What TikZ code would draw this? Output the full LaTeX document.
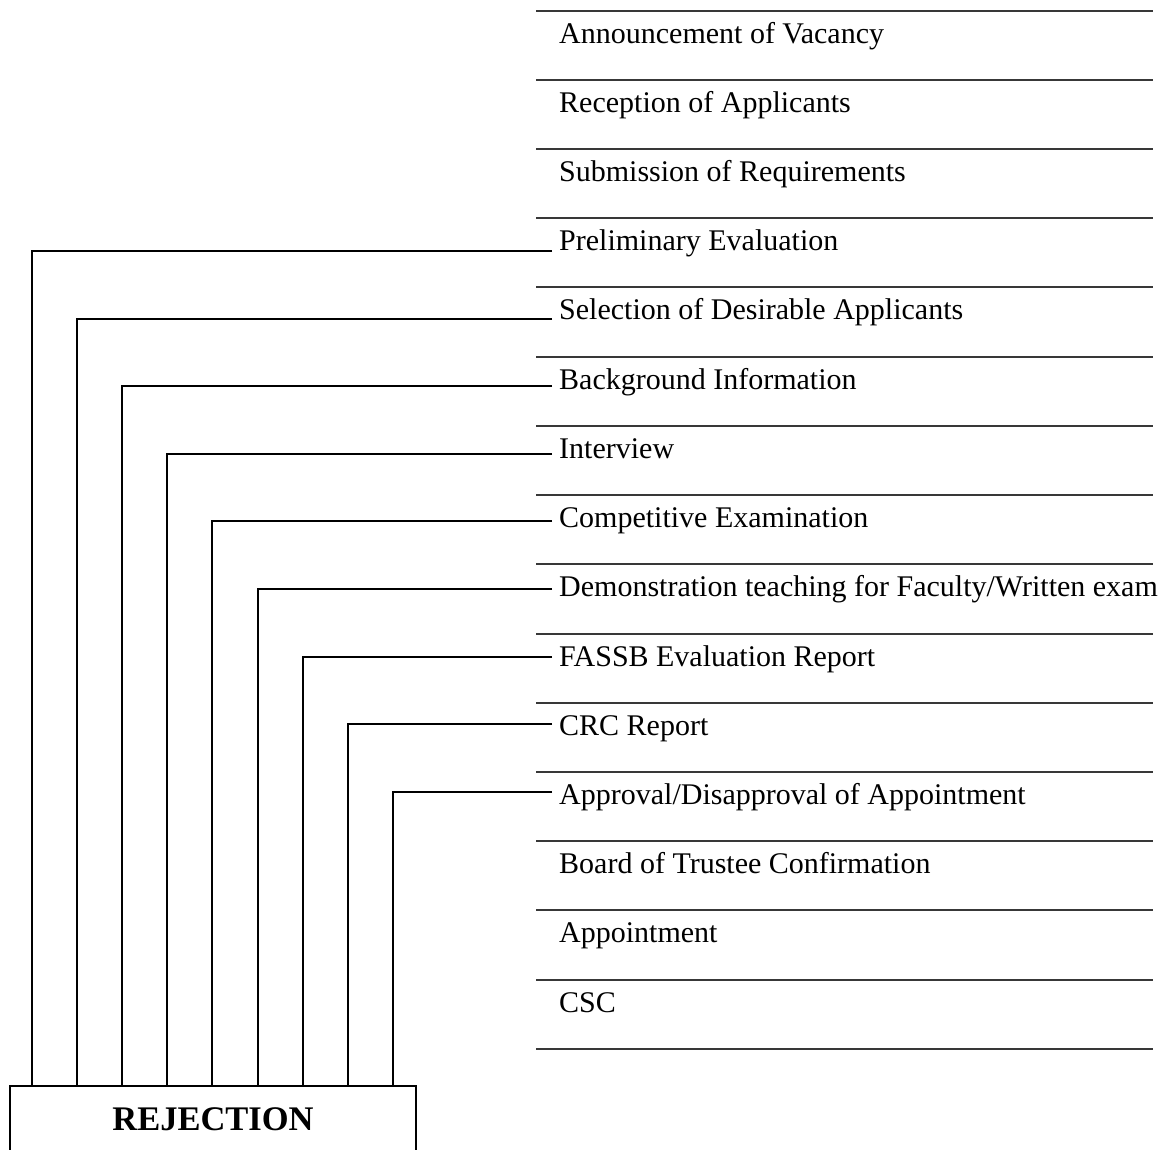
\documentclass[tikz,border=0pt]{standalone}
\usepackage{fontspec}
\setmainfont{Liberation Serif}
\begin{document}
\begin{tikzpicture}[x=1pt,y=-1pt,
  rule/.style={draw=black!78, line width=2pt},
  conn/.style={draw=black, line width=2pt},
  item/.style={anchor=base west, inner sep=0pt, font=\fontsize{30}{36}\selectfont},
  rejbox/.style={draw=black, line width=2pt, anchor=north, minimum width=406pt,
    inner xsep=0pt, inner ysep=20pt, text height=24pt, text depth=30pt,
    font=\bfseries\fontsize{34.5}{40}\selectfont}]
\useasboundingbox (0,0) rectangle (1163,1150);
% horizontal rules
\foreach \k in {0,...,15}{
  \draw[rule] (536,{10.7+69.2*\k}) -- (1153,{10.7+69.2*\k});
}
% items
\foreach \i/\t in {1/{Announcement of Vacancy},2/{Reception of Applicants},3/{Submission of Requirements},4/{Preliminary Evaluation},5/{Selection of Desirable Applicants},6/{Background Information},7/{Interview},8/{Competitive Examination},9/{Demonstration teaching for Faculty/Written exam},10/{FASSB Evaluation Report},11/{CRC Report},12/{Approval/Disapproval of Appointment},13/{Board of Trustee Confirmation},14/{Appointment},15/{CSC}}{
  \node[item] (t\i) at (559,{10.7+69.2*(\i-1)+32.5}) {\t};
}
% rejection box
\node[rejbox] (rej) at (213,1085) {REJECTION};
% connectors
\foreach \j in {0,...,8}{
  \coordinate (e\j) at (552,{251+67.6*\j});
  \draw[conn] (e\j) -| ([xshift={22.5pt+45.2pt*\j}]rej.north west);
}
\end{tikzpicture}
\end{document}
